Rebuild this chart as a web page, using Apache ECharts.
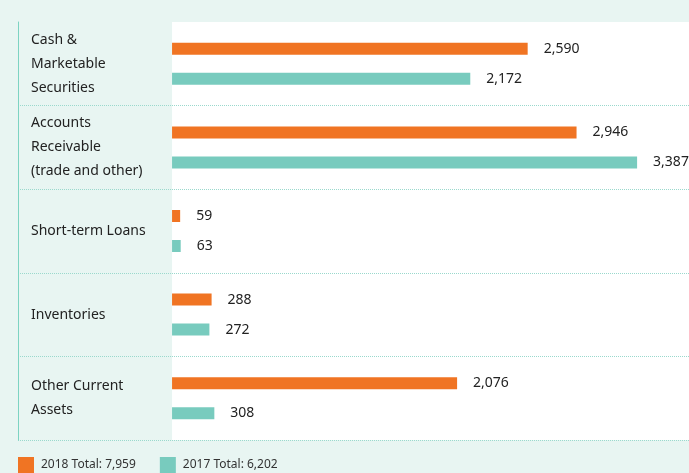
<!DOCTYPE html>
<html>
<head>
<meta charset="utf-8">
<script src="https://cdn.jsdelivr.net/npm/echarts@6/dist/echarts.min.js"></script>
<style>
  html, body { margin: 0; padding: 0; background: #e8f5f2; }
  #chart { width: 689px; height: 473px; }
</style>
</head>
<body>
<div id="chart"></div>
<script>
// Current assets by category, 2018 vs 2017
const categories = [
  'Cash &\nMarketable\nSecurities',
  'Accounts\nReceivable\n(trade and other)',
  'Short-term Loans',
  'Inventories',
  'Other Current\nAssets'
];
const values2018 = [2590, 2946, 59, 288, 2076];
const values2017 = [2172, 3387, 63, 272, 308];
const seriesNames = ['2018', '2017'];

const ORANGE = '#f07423';
const TEAL = '#78cbbe';
const MINT = '#e8f5f2';

// Value-axis extent: the negative side leaves room for the category labels
const XMIN = -1122;
const XMAX = 3765;

const fmt = v => v.toLocaleString('en-US');
const sum = arr => arr.reduce((a, b) => a + b, 0);
const totals = { '2018': sum(values2018), '2017': sum(values2017) };

const FONT = '"Noto Sans", "Open Sans", sans-serif';

const chart = echarts.init(document.getElementById('chart'));

const valueLabel = {
  show: true,
  position: 'right',
  distance: 16,
  color: '#222',
  fontSize: 14,
  fontFamily: FONT,
  formatter: p => fmt(p.value)
};

chart.setOption({
  backgroundColor: MINT,
  animation: false,
  grid: { left: 18, right: 0, top: 22, bottom: 33 },
  legend: {
    left: 18,
    top: 457,
    padding: 0,
    itemWidth: 16,
    itemHeight: 16,
    itemGap: 24,
    itemStyle: { borderWidth: 0 },
    textStyle: { color: '#333', fontSize: 12, fontFamily: FONT, padding: [2, 0, 0, 2] },
    icon: 'rect',
    data: seriesNames,
    formatter: name => name + ' Total: ' + fmt(totals[name])
  },
  xAxis: {
    type: 'value',
    min: XMIN,
    max: XMAX,
    show: false
  },
  yAxis: {
    type: 'category',
    inverse: true,
    data: categories,
    z: 5,
    axisLine: { show: true, onZero: false, lineStyle: { color: '#7dd3c2', width: 1 } },
    axisTick: { show: false },
    axisLabel: {
      inside: true,
      margin: 13,
      align: 'left',
      color: '#222',
      fontSize: 14,
      lineHeight: 24,
      fontFamily: FONT
    },
    splitLine: {
      show: true,
      // separators only between categories, not at the outer edges
      interval: (i) => i > 0 && i < categories.length,
      lineStyle: { color: '#9ad9cd', type: 'dotted', width: 1 }
    }
  },
  series: [
    {
      name: seriesNames[0],
      type: 'bar',
      data: values2018,
      barWidth: 12,
      barGap: '150%',
      itemStyle: { color: ORANGE },
      label: valueLabel,
      markArea: {
        silent: true,
        itemStyle: { color: '#ffffff' },
        data: [[{ xAxis: 0 }, { xAxis: XMAX }]]
      }
    },
    {
      name: seriesNames[1],
      type: 'bar',
      data: values2017,
      barWidth: 12,
      itemStyle: { color: TEAL },
      label: valueLabel
    }
  ]
});
</script>
</body>
</html>
